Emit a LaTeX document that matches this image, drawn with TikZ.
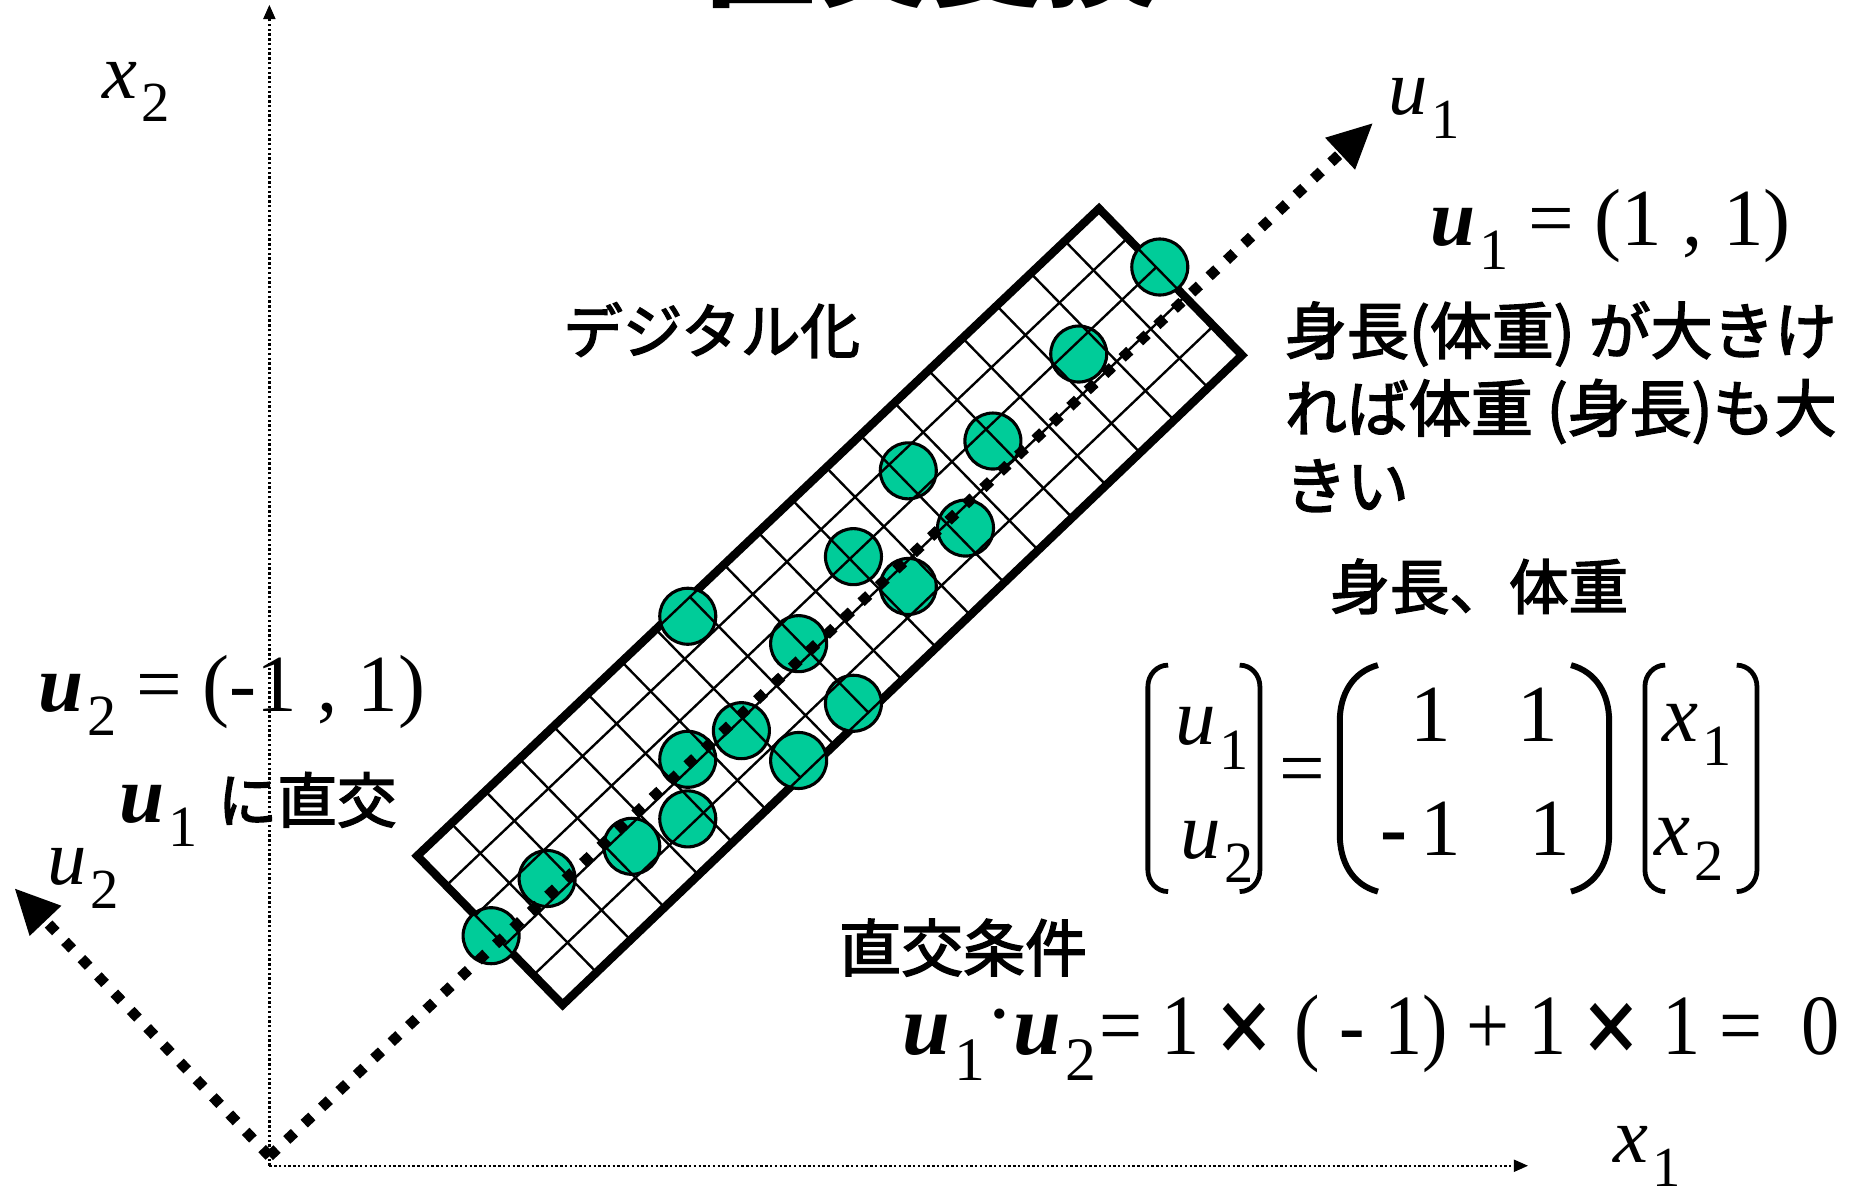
\documentclass[tikz,border=0pt]{standalone}
\usepackage{fontspec}
\usepackage{graphicx}
\usetikzlibrary{arrows.meta,calc}
\newfontfamily\jp{Noto Sans CJK JP}[FakeBold=2.5]
\newfontfamily\jpb{Noto Sans CJK JP}
\newfontfamily\tms{Liberation Serif}
\definecolor{dotgreen}{HTML}{00CC99}
\newcommand\sbs[1]{\kern0.05em\raisebox{-0.3em}{\scalebox{0.72}{#1}}}
\newcommand\bu{{\bfseries\itshape u}}
\newcommand\iu{{\itshape u}}
\newcommand\ix{{\itshape x}}
\newcommand\bx{{\jpb\bfseries\fontsize{30}{30}\selectfont ×}}
\begin{document}
\begin{tikzpicture}[x=0.5pt,y=-0.5pt,
  every node/.style={inner sep=0pt, outer sep=0pt},
  jptext/.style={font=\jp\fontsize{25}{32}\selectfont},
  mtext/.style={font=\tms\fontsize{34}{40}\selectfont},
  axlabel/.style={font=\tms\itshape\fontsize{33}{40}\selectfont},
  uaxis/.style={line width=4.4pt, dash pattern=on 4.4pt off 5.6pt, -{Triangle[length=19pt,width=17pt]}},
  xaxis/.style={line width=1pt, dash pattern=on 1pt off 1pt, -{Triangle[length=6pt,width=5pt]}},
  datapt/.style={circle, draw, line width=1.3pt, fill=dotgreen, minimum size=23.5pt},
  gridline/.style={line width=1pt},
  framebox/.style={line width=3.5pt, line join=miter},
  bracket/.style={line width=2pt},
  paren/.style={line width=2.5pt},
]
\useasboundingbox (0,0) rectangle (1568,1002);
\fill[white] (0,0) rectangle (1568,1002);

% title, cut by the top edge
\node[font=\jpb\bfseries\fontsize{48}{50}\selectfont, anchor=south] (title) at (781,7) {直交変換};

% x axes
\coordinate (A) at (226,978);
\coordinate (X1) at (1282,978);
\coordinate (X2) at (226,4);
\draw[xaxis] (A) -- (X1);
\draw[xaxis] (A) -- (X2);
\node[axlabel] (lx1) at (1382,970) {\ix\sbs{\upshape 1}};
\node[axlabel] (lx2) at (114,77) {\ix\sbs{\upshape 2}};

% rotated frame
\coordinate (L) at (350,718);
\coordinate (T) at (922,175);
\coordinate (R) at (1042,298);
\coordinate (B) at (472,843);
\draw[framebox] (L) -- (T) -- (R) -- (B) -- cycle;

% data points
\foreach \i/\px/\py in {1/973/224, 2/905/297, 3/833/370, 4/762/395, 5/810/443,
  6/716/467, 7/762/492, 8/577/517, 9/670/540, 10/716/590, 11/622/613,
  12/577/637, 13/670/638, 14/577/687, 15/530/710, 16/459/737, 17/412/785}
  \node[datapt] (c\i) at (\px,\py) {};

% grid
\foreach \k in {1,...,19}
  \draw[gridline] ($(L)!\k/20!(T)$) -- ($(B)!\k/20!(R)$);
\foreach \k in {1,...,4}
  \draw[gridline] ($(L)!\k/5!(B)$) -- ($(T)!\k/5!(R)$);
\draw[gridline] (L) -- (T) -- (R) -- (B) -- cycle;

% u axes
\coordinate (O) at (226,970);
\coordinate (U1) at (1152,103);
\coordinate (U2) at (12,745);
\draw[uaxis] (O) -- (U1);
\draw[uaxis] (O) -- (U2);
\node[axlabel] (lu1) at (1195,91) {\iu\sbs{\upshape 1}};
\node[axlabel] (lu2) at (70,737) {\iu\sbs{\upshape 2}};

% texts
\node[jptext] (digi) at (597,277) {デジタル化};
\node[mtext, anchor=base west] (u1def) at (1200,206) {\bu\sbs{1} = (1 , 1)};
\node[jptext, font=\jp\fontsize{26}{32.5}\selectfont, anchor=north west, align=left] (desc) at (1078,253)
  {身長(体重) が大きけ\\れば体重 (身長)も大\\きい};
\node[jptext] (hw) at (1241,492) {身長、体重};
\node[mtext, anchor=base west] (u2def) at (32,597) {\bu\sbs{2} = (-1 , 1)};
\node[mtext, anchor=base west] (orth) at (100,690) {\bu\sbs{1} {\jp\fontsize{25}{30}\selectfont に直交}};
\node[jptext, font=\jp\fontsize{26}{32}\selectfont] (cond) at (808,795) {直交条件};
\node[mtext, anchor=base west, font=\tms\fontsize{36}{40}\selectfont] (dot) at (757,885)
  {\bu\sbs{1}\raisebox{0.15em}{·}\bu\sbs{2}\kern1pt\scalebox{0.89}[1]{= 1\,\bx\ ( - 1) + 1\,\bx\ 1 = \ 0}};

% matrix equation
\draw[bracket] (980,558) to[out=180,in=90] (963,576) -- (963,730) to[out=-90,in=180] (980,748);
\draw[bracket] (1040,558) to[out=0,in=90] (1057,576) -- (1057,730) to[out=-90,in=0] (1040,748);
\node[mtext] (eq) at (1093,652) {=};
\draw[paren] (1156,558) to[out=195,in=90] (1124,605) -- (1124,700) to[out=-90,in=165] (1156,748);
\draw[paren] (1318,558) to[out=-15,in=90] (1350,605) -- (1350,700) to[out=-90,in=15] (1318,748);
\draw[bracket] (1397,558) to[out=180,in=90] (1380,576) -- (1380,730) to[out=-90,in=180] (1397,748);
\draw[bracket] (1457,558) to[out=0,in=90] (1474,576) -- (1474,730) to[out=-90,in=0] (1457,748);
\node[mtext, anchor=base west] (mu1) at (986,625) {\iu\sbs{1}};
\node[mtext, anchor=base west] (mu2) at (990,720) {\iu\sbs{2}};
\node[mtext, anchor=base] (m11) at (1200,622) {1};
\node[mtext, anchor=base] (m12) at (1290,622) {1};
\node[mtext, anchor=base] (m21) at (1192,718) {\textbf{-}\,1};
\node[mtext, anchor=base] (m22) at (1300,718) {1};
\node[mtext, anchor=base west] (mx1) at (1395,622) {\ix\sbs{1}};
\node[mtext, anchor=base west] (mx2) at (1388,718) {\ix\sbs{2}};
\end{tikzpicture}
\end{document}
